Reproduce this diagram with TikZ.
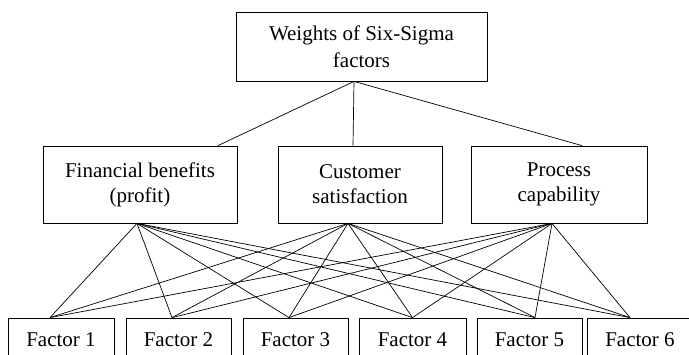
\documentclass[tikz,border=0pt]{standalone}
\usepackage{fontspec}
\setmainfont{Liberation Serif}
\usetikzlibrary{calc}
\tikzset{
	box/.style={draw, line width=0.8pt, rectangle, inner sep=0pt, align=center, font=\fontsize{21}{25}\selectfont},
	link/.style={line width=0.7pt}
}

\begin{document}
\begin{tikzpicture}[x=1pt, y=-1pt]
		%%%%% START %%%%%
		\useasboundingbox (0, 0) rectangle (689, 354);
		
		\node[box, minimum width=251, minimum height=69, font=\fontsize{21}{27.5}\selectfont] (goal) at (361.5, 46.5) {Weights of Six-Sigma\\factors};
		
		\node[box, minimum width=194, minimum height=77] (fin) at (140, 184.5) {Financial benefits\\(profit)};
		\node[box, minimum width=164, minimum height=77] (cust) at (360, 184.5) {Customer\\satisfaction};
		\node[box, minimum width=176, minimum height=77] (proc) at (559, 184.5) {Process\\capability};
		
		\node[box, minimum width=106, minimum height=44] (f1) at (61, 340) {Factor 1};
		\node[box, minimum width=105, minimum height=44] (f2) at (178.5, 340) {Factor 2};
		\node[box, minimum width=105, minimum height=44] (f3) at (295.5, 340) {Factor 3};
		\node[box, minimum width=107, minimum height=44] (f4) at (412.5, 340) {Factor 4};
		\node[box, minimum width=105, minimum height=44] (f5) at (529.5, 340) {Factor 5};
		\node[box, minimum width=106, minimum height=44] (f6) at (640, 340) {Factor 6};
		
		% where the lines meet the boxes
		\coordinate (goal-out) at ([xshift=-7.5]goal.south);
		\coordinate (fin-in) at ([xshift=78]fin.north);
		\coordinate (cust-in) at ([xshift=-7]cust.north);
		\coordinate (proc-in) at ([xshift=23]proc.north);
		\coordinate (fin-out) at ([xshift=-3]fin.south);
		\coordinate (cust-out) at ([xshift=-12]cust.south);
		\coordinate (proc-out) at ([xshift=-7]proc.south);
		\coordinate (f1-in) at ([xshift=-11]f1.north);
		\coordinate (f2-in) at ([xshift=-6.5]f2.north);
		\coordinate (f3-in) at ([xshift=-6.5]f3.north);
		\coordinate (f4-in) at (f4.north);
		\coordinate (f5-in) at ([xshift=5.5]f5.north);
		\coordinate (f6-in) at ([xshift=-10]f6.north);
		
		\draw[link] (goal-out) -- (fin-in);
		\draw[link] (goal-out) -- (cust-in);
		\draw[link] (goal-out) -- (proc-in);
		
		\draw[link] (fin-out) -- (f1-in);
		\draw[link] (fin-out) -- (f2-in);
		\draw[link] (fin-out) -- (f3-in);
		\draw[link] (fin-out) -- (f4-in);
		\draw[link] (fin-out) -- (f5-in);
		\draw[link] (fin-out) -- (f6-in);
		
		\draw[link] (cust-out) -- (f1-in);
		\draw[link] (cust-out) -- (f2-in);
		\draw[link] (cust-out) -- (f3-in);
		\draw[link] (cust-out) -- (f4-in);
		\draw[link] (cust-out) -- (f5-in);
		\draw[link] (cust-out) -- (f6-in);
		
		\draw[link] (proc-out) -- (f1-in);
		\draw[link] (proc-out) -- (f2-in);
		\draw[link] (proc-out) -- (f3-in);
		\draw[link] (proc-out) -- (f4-in);
		\draw[link] (proc-out) -- (f5-in);
		\draw[link] (proc-out) -- (f6-in);
		%%%%% END %%%%%
\end{tikzpicture}
\end{document}
